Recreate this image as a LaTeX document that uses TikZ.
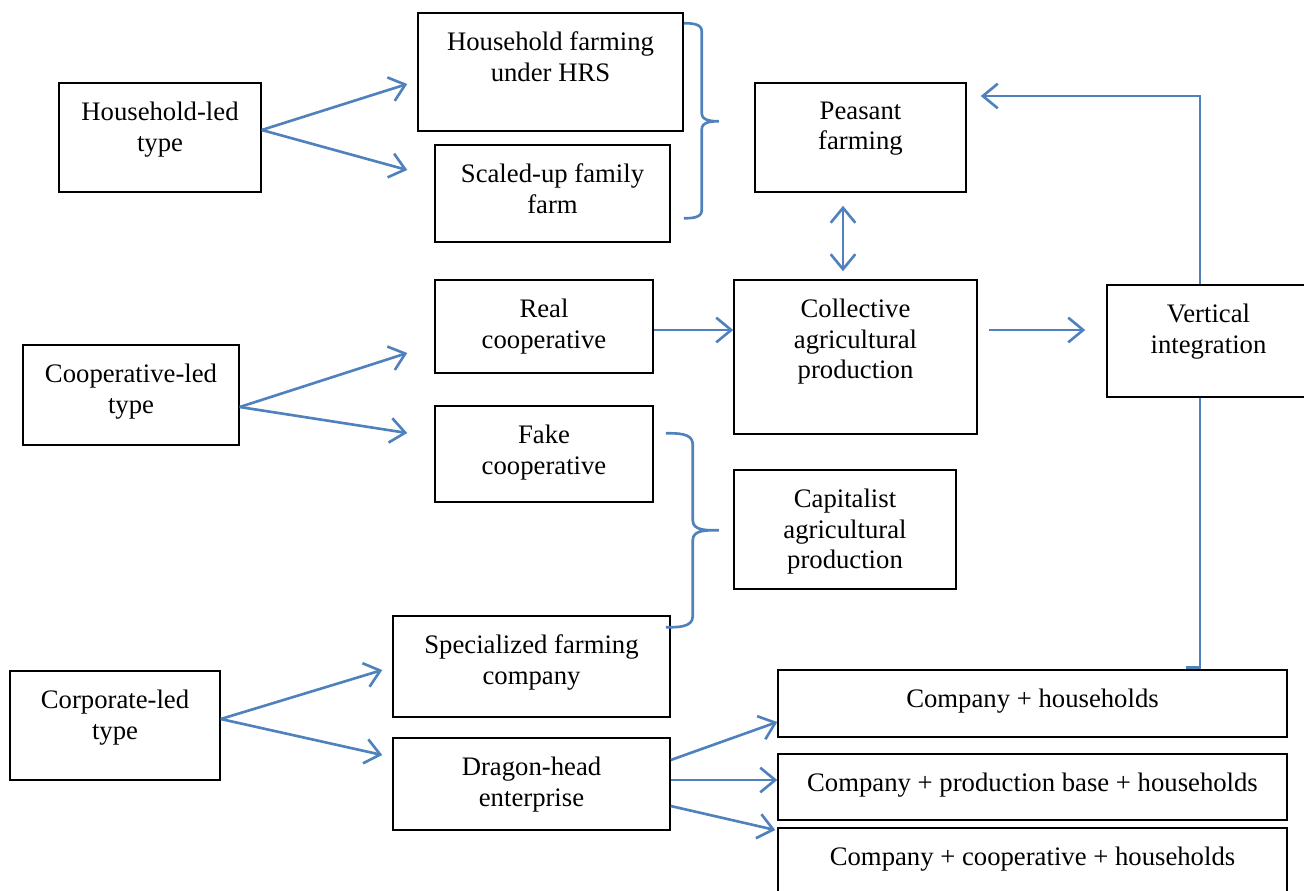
\documentclass[tikz,border=0pt]{standalone}
\usepackage{fontspec}
\setmainfont{Liberation Serif}
\usetikzlibrary{positioning, calc, fit, arrows.meta}
\definecolor{linkblue}{RGB}{79,129,189}

\begin{document}
\begin{tikzpicture}[x=0.02cm, y=-0.02cm,
    font=\fontsize{15.2}{17.6}\selectfont,
    box/.style={draw=black, line width=0.85pt, inner sep=0pt},
    txt/.style={anchor=north, align=center, inner sep=0pt, yshift=-10.8pt},
    link/.style={draw=linkblue, line width=1.5pt},
    arr/.style={link, -{Straight Barb[length=8.5pt,width=14pt]}},
    arrboth/.style={link, {Straight Barb[length=8.5pt,width=14pt]}-{Straight Barb[length=8.5pt,width=14pt]}}]
    \useasboundingbox (0,0) rectangle (1304,890);

    % household-led branch
    \node[box, fit={(59,83) (261,192)}, label={[txt]north:Household-led\\type}] (hhled) {};
    \node[box, fit={(418,13) (683,131)}, label={[txt]north:Household farming\\under HRS}] (hrs) {};
    \node[box, fit={(435,145) (670,242)}, label={[txt]north:Scaled-up family\\farm}] (famfarm) {};
    \node[box, fit={(755,83) (966,192)}, label={[txt]north:Peasant\\farming}] (peasant) {};

    % cooperative-led branch
    \node[box, fit={(23,345) (239,445)}, label={[txt]north:Cooperative-led\\type}] (coopled) {};
    \node[box, fit={(435,280) (653,373)}, label={[txt]north:Real\\cooperative}] (realcoop) {};
    \node[box, fit={(435,406) (653,502)}, label={[txt]north:Fake\\cooperative}] (fakecoop) {};
    \node[box, fit={(734,280) (977,434)}, label={[txt]north:Collective\\agricultural\\production}] (collective) {};
    \node[box, fit={(734,470) (956,589)}, label={[txt]north:Capitalist\\agricultural\\production}] (capitalist) {};
    \node[box, fit={(1107,285) (1310,397)}, label={[txt]north:Vertical\\integration}] (vertical) {};

    % corporate-led branch
    \node[box, fit={(10,671) (220,780)}, label={[txt]north:Corporate-led\\type}] (corpled) {};
    \node[box, fit={(393,616) (670,717)}, label={[txt]north:Specialized farming\\company}] (speccomp) {};
    \node[box, fit={(393,738) (670,830)}, label={[txt]north:Dragon-head\\enterprise}] (dragon) {};
    \node[box, fit={(778,670) (1287,737)}, label={[txt]north:Company + households}] (comphh) {};
    \node[box, fit={(778,754) (1287,820)}, label={[txt]north:Company + production base + households}] (compbase) {};
    \node[box, fit={(778,828) (1287,898)}, label={[txt]north:Company + cooperative + households}] (compcoop) {};

    % arrows
    \draw[arr] ($(hhled.east)+(0,-7.5)$) -- ($(hrs.west)+(-10,12)$);
    \draw[arr] ($(hhled.east)+(0,-7.5)$) -- ($(famfarm.west)+(-27,-23.5)$);
    \draw[arr] ($(coopled.east)+(0,12)$) -- ($(realcoop.west)+(-27,26.5)$);
    \draw[arr] ($(coopled.east)+(0,12)$) -- ($(fakecoop.west)+(-27,-21)$);
    \draw[arr] ($(corpled.east)+(0,-6.5)$) -- ($(speccomp.west)+(-10,3.5)$);
    \draw[arr] ($(corpled.east)+(0,-6.5)$) -- ($(dragon.west)+(-10,-29)$);
    \draw[arr] ($(realcoop.east)+(0,3.5)$) -- ($(collective.west)+(0,-27)$);
    \draw[arr] ($(collective.east)+(11,-27)$) -- ($(vertical.west)+(-21,-11)$);
    \draw[arrboth] ($(peasant.south)+(-17.5,13)$) -- ($(collective.north)+(-12.5,-8)$);
    \draw[arr] ($(vertical.north)+(-8.5,0)$) |- ($(peasant.east)+(14,-41.5)$);
    \draw[link] ($(vertical.south)+(-8.5,0)$) |- ($(comphh.north)+(153.5,-2)$);
    \draw[arr] ($(dragon.east)+(0,-24)$) -- ($(comphh.west)+(0,18.5)$);
    \draw[arr] ($(dragon.east)+(0,-4)$) -- ($(compbase.west)+(0,-7)$);
    \draw[arr] ($(dragon.east)+(0,22)$) -- ($(compcoop.west)+(-2,-33)$);

    % braces
    \coordinate (brace1) at ($(hrs.north east)+(0,11)$);
    \coordinate (brace2) at ($(fakecoop.north east)+(12,28)$);
    \draw[link] (brace1) to[out=0,in=90] ++(18,8) -- ++(0,82) to[out=-90,in=180] ++(17,8)
        to[out=180,in=90] ++(-17,8) -- ++(0,81) to[out=-90,in=0] ++(-18,8);
    \draw[link] (brace2) to[out=0,in=90] ++(27,11) -- ++(0,76) to[out=-90,in=180] ++(26,10)
        to[out=180,in=90] ++(-26,10) -- ++(0,76) to[out=-90,in=0] ++(-27,11);
\end{tikzpicture}
\end{document}
